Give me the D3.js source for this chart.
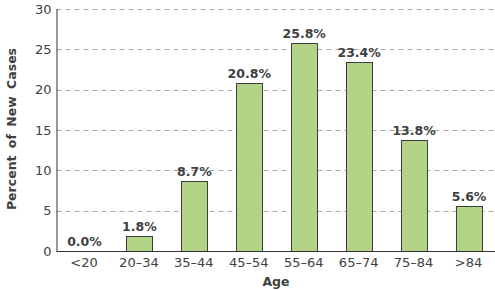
<!DOCTYPE html>
<html><head><meta charset="utf-8">
<script src="https://cdn.jsdelivr.net/npm/d3@7"></script>
<style>body{margin:0;background:#fff}svg{display:block}</style>
</head><body>
<svg id="c" width="495" height="290"></svg>
<script>
const categories = ["<20","20–34","35–44","45–54","55–64","65–74","75–84",">84"];
const values = [0.0, 1.8, 8.7, 20.8, 25.8, 23.4, 13.8, 5.6];
const yTicks = [0,5,10,15,20,25,30];
const xTitle = "Age";
const yTitle = "Percent of New Cases";

(function(){
const svg = d3.select("#c");
const mL = 56.5, mR = 496, mT = 9, mB = 251;
const x = d3.scaleBand().domain(categories).range([mL, mR]).paddingInner(0.53).paddingOuter(0.265);
const y = d3.scaleLinear().domain([0,30]).range([mB, mT]);
const font = "'DejaVu Sans', Verdana, sans-serif";
const textCol = "#404040";

// gridlines
svg.append("g").selectAll("line").data(yTicks.filter(d=>d>0)).join("line")
  .attr("x1", mL).attr("x2", 495)
  .attr("y1", d=>Math.round(y(d))+0.5).attr("y2", d=>Math.round(y(d))+0.5)
  .attr("stroke", "#a8a8a8").attr("stroke-dasharray","5,4").attr("stroke-width",1);

// bars
svg.append("g").selectAll("rect").data(values.map((v,i)=>({c:categories[i],v}))).join("rect")
  .attr("x", d=>Math.round(x(d.c))+0.5).attr("width", Math.round(x.bandwidth()))
  .attr("y", d=>Math.round(y(d.v))+0.5).attr("height", d=>Math.max(0, Math.round(y(0))-Math.round(y(d.v))))
  .attr("fill", "#b3d487").attr("stroke", "#3d3d3d").attr("stroke-width", 1)
  .attr("display", d=>d.v>0?null:"none");

// value labels
svg.append("g").selectAll("text").data(values.map((v,i)=>({c:categories[i],v}))).join("text")
  .attr("x", d=>x(d.c)+x.bandwidth()/2+0.5).attr("y", d=>y(d.v)-5)
  .attr("text-anchor","middle").attr("font-family",font).attr("font-size",12.5).attr("font-weight","bold")
  .attr("fill", textCol).text(d=>d.v.toFixed(1)+"%");

// axes
const yAxis = svg.append("g").attr("transform",`translate(${mL},0)`)
  .call(d3.axisLeft(y).tickValues(yTicks).tickSize(0).tickPadding(5));
yAxis.select(".domain").attr("stroke","#333").attr("d",`M0.5,${mT}V${mB+0.5}`);
yAxis.selectAll("text").attr("font-family",font).attr("font-size",13).attr("fill",textCol);

const xAxis = svg.append("g").attr("transform",`translate(0,${mB+0.5})`)
  .call(d3.axisBottom(x).tickSize(0).tickPadding(6));
xAxis.select(".domain").attr("stroke","#333").attr("d",`M${mL},0H495`);
xAxis.selectAll("text").attr("font-family",font).attr("font-size",13).attr("fill",textCol).attr("dy","0.75em");

// titles
svg.append("text").attr("x", 276).attr("y", 286).attr("text-anchor","middle")
  .attr("font-family",font).attr("font-size",12.5).attr("font-weight","bold").attr("fill",textCol).text(xTitle);
svg.append("text").attr("transform","translate(16,129) rotate(-90)").attr("text-anchor","middle")
  .attr("font-family",font).attr("font-size",12.5).attr("font-weight","bold").attr("fill",textCol)
  .attr("word-spacing","3px").text(yTitle);
})();
</script>
</body></html>
